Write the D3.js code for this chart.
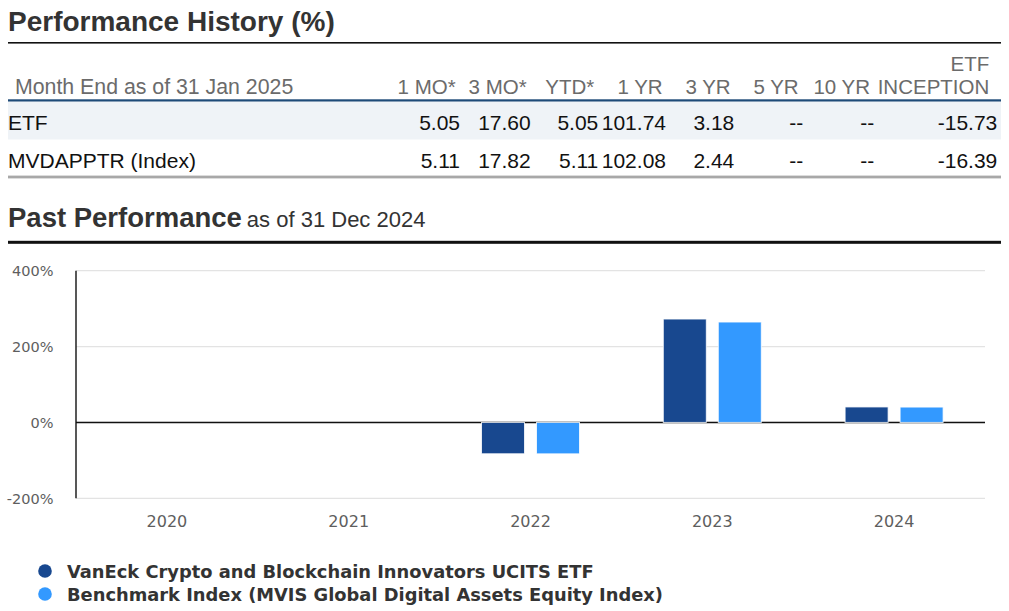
<!DOCTYPE html>
<html>
<head>
<meta charset="utf-8">
<script src="https://cdn.jsdelivr.net/npm/d3@7"></script>
<style>
  html, body { margin: 0; padding: 0; background: #fff; }
  svg { display: block; }
</style>
</head>
<body>
<svg id="chart" width="1009" height="611"></svg>
<script>
// ---------- DATA ----------
const tableTitle = "Performance History (%)";
const tableSubtitle = "Month End as of 31 Jan 2025";
const tableColumns = ["1 MO*", "3 MO*", "YTD*", "1 YR", "3 YR", "5 YR", "10 YR", "ETF\nINCEPTION"];
const rowLabels = ["ETF", "MVDAPPTR (Index)"];
const etfRow = ["5.05", "17.60", "5.05", "101.74", "3.18", "--", "--", "-15.73"];
const indexRow = ["5.11", "17.82", "5.11", "102.08", "2.44", "--", "--", "-16.39"];

const chartTitle = "Past Performance";
const chartSubtitle = "as of 31 Dec 2024";
const years = ["2020", "2021", "2022", "2023", "2024"];
const etfReturns = [null, null, -82.6, 272.6, 40.8];
const benchmarkReturns = [null, null, -82.8, 264.7, 40.5];
const yTicks = [-200, 0, 200, 400];
const seriesNames = ["VanEck Crypto and Blockchain Innovators UCITS ETF",
                     "Benchmark Index (MVIS Global Digital Assets Equity Index)"];

// ---------- LAYOUT ----------
const svg = d3.select("#chart");
const sans = "'Liberation Sans', Arial, sans-serif";
const dv = "'DejaVu Sans', Verdana, sans-serif";
const colors = ["#18488f", "#3399ff"];

// Table title
svg.append("text").attr("x", 8).attr("y", 31)
  .attr("font-family", sans).attr("font-weight", "bold").attr("font-size", 28)
  .attr("fill", "#333").text(tableTitle);
svg.append("rect").attr("x", 8).attr("y", 42).attr("width", 993).attr("height", 1.6).attr("fill", "#111");

// Table
const headRight = [455.7, 526.7, 594.3, 662.7, 730.7, 798.7, 870, 989.3];
const valRight  = [460, 530.7, 598.3, 666, 734.3, 803.3, 874.3, 997.3];

svg.append("text").attr("x", 15).attr("y", 94)
  .attr("font-family", sans).attr("font-size", 21.3).attr("fill", "#6b6b6b").text(tableSubtitle);

tableColumns.forEach((c, i) => {
  const lines = c.split("\n");
  lines.forEach((ln, j) => {
    svg.append("text").attr("x", headRight[i]).attr("y", 94 - (lines.length - 1 - j) * 23.5)
      .attr("text-anchor", "end").attr("font-family", sans).attr("font-size", 20.5)
      .attr("fill", "#6b6b6b").text(ln);
  });
});

svg.append("rect").attr("x", 8).attr("y", 101).attr("width", 993).attr("height", 38.5).attr("fill", "#eff3f7");
svg.append("rect").attr("x", 8).attr("y", 99.3).attr("width", 993).attr("height", 2.2).attr("fill", "#1e4b78");
svg.append("rect").attr("x", 8).attr("y", 175.6).attr("width", 993).attr("height", 2.8).attr("fill", "#a8a8a8");

const rows = [etfRow, indexRow];
const rowBase = [129.5, 167.5];
rows.forEach((r, ri) => {
  svg.append("text").attr("x", 8).attr("y", rowBase[ri])
    .attr("font-family", sans).attr("font-size", 21).attr("fill", "#111").text(rowLabels[ri]);
  r.forEach((v, i) => {
    svg.append("text").attr("x", valRight[i]).attr("y", rowBase[ri])
      .attr("text-anchor", "end").attr("font-family", sans).attr("font-size", 21)
      .attr("fill", "#111").text(v);
  });
});

// Chart title
const ct = svg.append("text").attr("x", 8).attr("y", 227)
  .attr("font-family", sans).attr("fill", "#333");
ct.append("tspan").attr("font-weight", "bold").attr("font-size", 27.5).text(chartTitle);
ct.append("tspan").attr("font-size", 22).attr("dx", 5).text(chartSubtitle);
svg.append("rect").attr("x", 8).attr("y", 240.8).attr("width", 993).attr("height", 3).attr("fill", "#111");

// Chart
const plot = { left: 76, right: 985, top: 270.7, bottom: 498.3 };
const y = d3.scaleLinear().domain([-200, 400]).range([plot.bottom, plot.top]);
const x0 = d3.scaleBand().domain(years).range([plot.left, plot.right]).padding(0);
const keys = ["etf", "bench"];
const x1 = d3.scaleBand().domain(keys).range([0, x0.bandwidth()])
  .paddingInner(0.218).paddingOuter(0.762);

// gridlines
svg.append("g").selectAll("line").data(yTicks).join("line")
  .attr("x1", plot.left).attr("x2", plot.right)
  .attr("y1", d => y(d)).attr("y2", d => y(d))
  .attr("stroke", "#e3e3e3").attr("stroke-width", 1.2);

// y axis labels
const yAxis = d3.axisLeft(y).tickValues(yTicks).tickFormat(d => d + "%").tickSize(0).tickPadding(0);
const ya = svg.append("g").attr("transform", `translate(53.5,0)`).call(yAxis);
ya.select(".domain").remove();
ya.selectAll("text").attr("font-family", dv).attr("font-size", 14.5).attr("fill", "#5e5e5e").attr("dy", "0.34em");

// zero line
svg.append("line").attr("x1", plot.left).attr("x2", plot.right)
  .attr("y1", y(0)).attr("y2", y(0)).attr("stroke", "#111").attr("stroke-width", 1.6);
// y axis line
svg.append("line").attr("x1", plot.left).attr("x2", plot.left)
  .attr("y1", plot.top).attr("y2", plot.bottom).attr("stroke", "#111").attr("stroke-width", 1.4);

// bars
const barData = [];
years.forEach((yr, i) => {
  [etfReturns[i], benchmarkReturns[i]].forEach((v, k) => {
    if (v !== null) barData.push({ year: yr, key: keys[k], value: v, color: colors[k] });
  });
});
svg.append("g").selectAll("rect").data(barData).join("rect")
  .attr("x", d => x0(d.year) + x1(d.key))
  .attr("width", x1.bandwidth())
  .attr("y", d => y(Math.max(0, d.value)))
  .attr("height", d => Math.abs(y(d.value) - y(0)))
  .attr("fill", d => d.color)
  .attr("stroke", "rgba(255,255,255,0.8)").attr("stroke-width", 1);

// x axis labels
const xAxis = d3.axisBottom(x0).tickSize(0).tickPadding(0);
const xa = svg.append("g").attr("transform", `translate(0,527.3)`).call(xAxis);
xa.select(".domain").remove();
xa.selectAll("text").attr("font-family", dv).attr("font-size", 16).attr("fill", "#5e5e5e").attr("dy", 0);

// legend
const lg = svg.append("g").selectAll("g").data(seriesNames).join("g")
  .attr("transform", (d, i) => `translate(45,${571 + i * 23})`);
lg.append("circle").attr("r", 6.8).attr("fill", (d, i) => colors[i]);
lg.append("text").attr("x", 22).attr("y", 7)
  .attr("font-family", dv).attr("font-weight", "bold").attr("font-size", 17.85)
  .attr("fill", "#333").text(d => d);
</script>
</body>
</html>
